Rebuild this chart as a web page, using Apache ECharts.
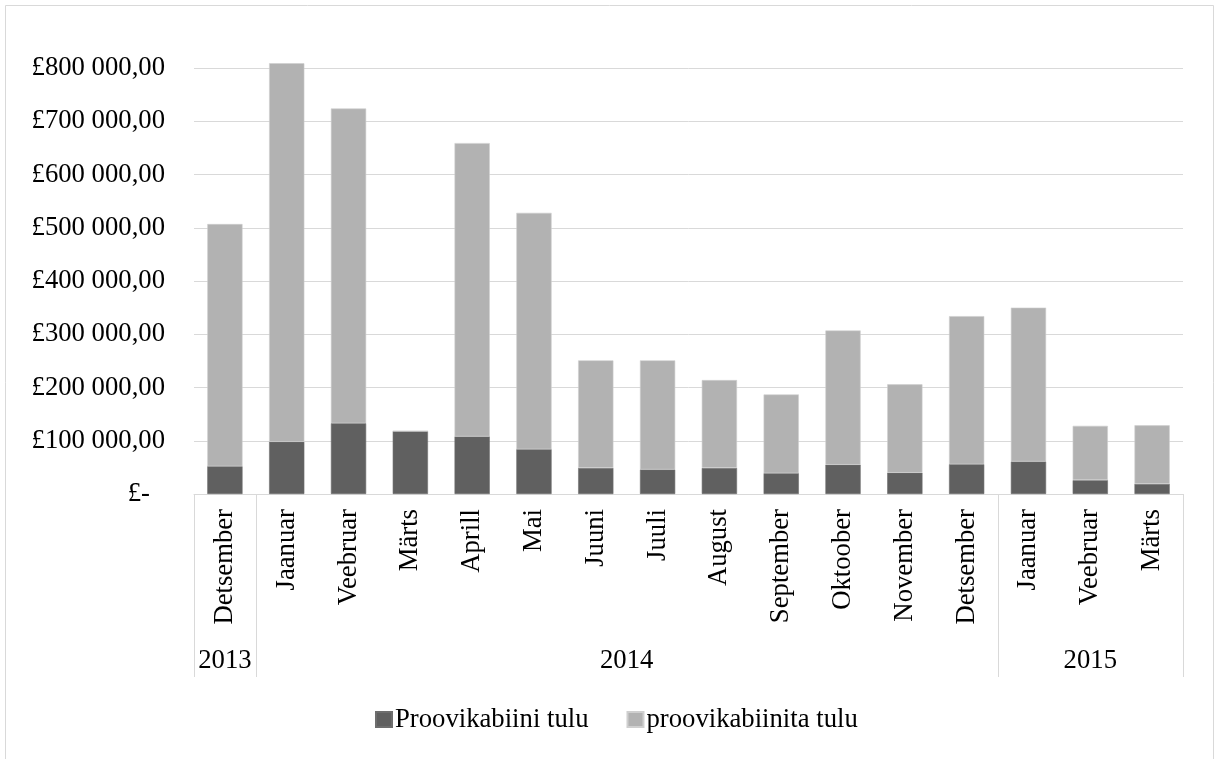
<!DOCTYPE html>
<html>
<head>
<meta charset="utf-8">
<script src="https://cdn.jsdelivr.net/npm/echarts@6/dist/echarts.min.js"></script>
<style>
  html, body { margin: 0; padding: 0; background: #fff; }
  #chart { width: 1220px; height: 759px; }
</style>
</head>
<body>
<div id="chart"></div>
<script>
// Monthly revenue, split by fitting-room and non-fitting-room sales
const months = ['Detsember', 'Jaanuar', 'Veebruar', 'Märts', 'Aprill', 'Mai', 'Juuni', 'Juuli',
  'August', 'September', 'Oktoober', 'November', 'Detsember', 'Jaanuar', 'Veebruar', 'Märts'];
const withFittingRoom = [52000, 98000, 133000, 118000, 108000, 84000, 49000, 46000,
  49000, 39000, 55000, 40000, 56000, 61000, 26000, 19000];
const withoutFittingRoom = [455000, 711000, 591000, 0, 551000, 444000, 202000, 205000,
  165000, 148000, 252000, 166000, 278000, 289000, 102000, 110000];
// Year groups: first month index, index after last month
const yearStart = [0, 1, 13];
const yearEnd = [1, 13, 16];
const yearLabels = ['2013', '2014', '2015'];
const yTicks = [0, 100000, 200000, 300000, 400000, 500000, 600000, 700000, 800000];

const FONT = "'Liberation Serif', 'Times New Roman', serif";
const FONT_SIZE = 26.7;
const GRID_LINE = '#d9d9d9';

function money(v) {
  if (v === 0) return '{z|£-}';
  const s = String(Math.round(v));
  const grouped = s.replace(/\B(?=(\d{3})+(?!\d))/g, ' ');
  return '£' + grouped + ',00';
}

const chart = echarts.init(document.getElementById('chart'), null, { renderer: 'canvas' });

chart.setOption({
  animation: false,
  backgroundColor: '#fff',
  textStyle: { fontFamily: FONT, color: '#000' },
  graphic: [{
    type: 'rect',
    shape: { x: 5.5, y: 5.5, width: 1208, height: 800 },
    style: { fill: 'none', stroke: GRID_LINE, lineWidth: 1 },
    silent: true
  }],
  grid: { left: 194, right: 37, top: 68, bottom: 265, containLabel: false },
  legend: {
    top: 701,
    left: 370,
    itemWidth: 16,
    itemHeight: 15,
    itemGap: 38,
    icon: 'rect',
    data: ['Proovikabiini tulu', 'proovikabiinita tulu'],
    textStyle: { fontFamily: FONT, fontSize: FONT_SIZE, color: '#000', padding: [0, 0, 0, -2] }
  },
  xAxis: [{
    type: 'category',
    data: months,
    axisLine: { show: true, lineStyle: { color: GRID_LINE, width: 1 } },
    axisTick: { show: false },
    axisLabel: {
      rotate: 90,
      margin: 15,
      interval: 0,
      fontFamily: FONT,
      fontSize: FONT_SIZE,
      color: '#000'
    }
  }, {
    type: 'value',
    min: 0,
    max: 16,
    show: false
  }],
  yAxis: {
    type: 'value',
    min: 0,
    max: 800000,
    interval: 100000,
    axisLine: { show: false },
    axisTick: { show: false },
    splitLine: { lineStyle: { color: GRID_LINE, width: 1 } },
    axisLabel: {
      margin: 29,
      fontFamily: FONT,
      fontSize: FONT_SIZE,
      color: '#000',
      formatter: function (v) { return yTicks.indexOf(v) >= 0 ? money(v) : ''; },
      rich: {
        z: { fontFamily: FONT, fontSize: FONT_SIZE, color: '#000', padding: [0, 15, 0, 0] }
      }
    }
  },
  series: [{
    name: 'Proovikabiini tulu',
    type: 'bar',
    stack: 'tulu',
    data: withFittingRoom,
    barCategoryGap: '43%',
    clip: false,
    itemStyle: { color: '#606060', borderColor: '#6e6e6e', borderWidth: 0.6 }
  }, {
    name: 'proovikabiinita tulu',
    type: 'bar',
    stack: 'tulu',
    data: withoutFittingRoom,
    barCategoryGap: '43%',
    clip: false,
    itemStyle: { color: '#b2b2b2', borderColor: '#cfcfcf', borderWidth: 0.6 }
  }, {
    // Year row of the two-level category axis, with its separators
    type: 'custom',
    xAxisIndex: 1,
    yAxisIndex: 0,
    clip: false,
    silent: true,
    data: yearStart.map((s, i) => [s, yearEnd[i], 0]),
    encode: { x: [0, 1], y: 2 },
    renderItem: function (params, api) {
      const a = api.coord([api.value(0), 0]);
      const b = api.coord([api.value(1), 0]);
      const depth = 183;
      const style = { stroke: GRID_LINE, lineWidth: 1 };
      return {
        type: 'group',
        children: [
          { type: 'line', shape: { x1: Math.round(a[0]) + 0.5, y1: a[1], x2: Math.round(a[0]) + 0.5, y2: a[1] + depth }, style: style },
          { type: 'line', shape: { x1: Math.round(b[0]) + 0.5, y1: b[1], x2: Math.round(b[0]) + 0.5, y2: b[1] + depth }, style: style },
          {
            type: 'text',
            x: (a[0] + b[0]) / 2,
            y: a[1] + 167,
            style: {
              text: yearLabels[params.dataIndex],
              fontFamily: FONT,
              fontSize: FONT_SIZE,
              fill: '#000',
              align: 'center',
              verticalAlign: 'middle'
            }
          }
        ]
      };
    }
  }]
});
</script>
</body>
</html>
